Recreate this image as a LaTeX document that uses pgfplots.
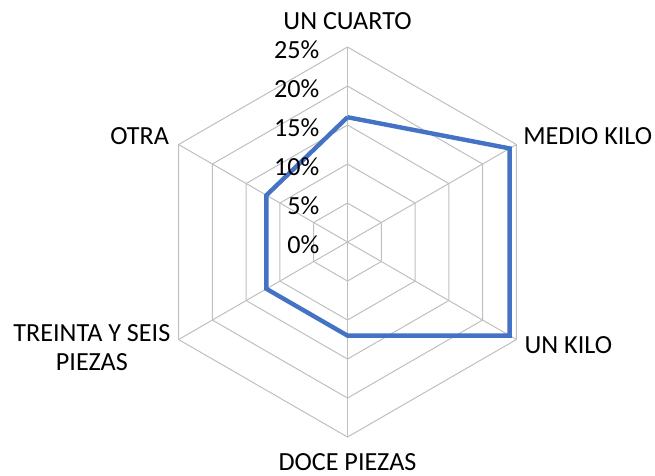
\documentclass[border=0pt]{standalone}
\usepackage{fontspec}
\setmainfont{Carlito}
\usepackage{pgfplots}
\pgfplotsset{compat=1.18}
\usepgfplotslibrary{polar}
\definecolor{gridc}{RGB}{191,191,191}
\definecolor{serie}{RGB}{68,114,196}
\newcommand\lf{\fontsize{19.6}{24}\selectfont}
\begin{document}
\begin{tikzpicture}
\useasboundingbox (-260.6pt,-174.75pt) rectangle (230.6pt,181.5pt);
\begin{polaraxis}[at={(0,0)}, anchor=origin,
  width=292.5pt, height=292.5pt, scale only axis,
  ymin=0, ymax=25, xtick=\empty, ytick=\empty,
  axis line style={draw=none}, clip=false]
\addplot[gridc, line width=0.75pt] coordinates {(90,5)(30,5)(330,5)(270,5)(210,5)(150,5)(90,5)};
\addplot[gridc, line width=0.75pt] coordinates {(90,10)(30,10)(330,10)(270,10)(210,10)(150,10)(90,10)};
\addplot[gridc, line width=0.75pt] coordinates {(90,15)(30,15)(330,15)(270,15)(210,15)(150,15)(90,15)};
\addplot[gridc, line width=0.75pt] coordinates {(90,20)(30,20)(330,20)(270,20)(210,20)(150,20)(90,20)};
\addplot[gridc, line width=0.75pt] coordinates {(90,25)(30,25)(330,25)(270,25)(210,25)(150,25)(90,25)};
\addplot[gridc, line width=0.75pt] coordinates {(90,0)(90,25)};
\addplot[gridc, line width=0.75pt] coordinates {(30,0)(30,25)};
\addplot[gridc, line width=0.75pt] coordinates {(330,0)(330,25)};
\addplot[gridc, line width=0.75pt] coordinates {(270,0)(270,25)};
\addplot[gridc, line width=0.75pt] coordinates {(210,0)(210,25)};
\addplot[gridc, line width=0.75pt] coordinates {(150,0)(150,25)};
\addplot[serie, line width=3.3pt, line join=miter] coordinates {(90,16)(30,24)(330,24)(270,12)(210,12)(150,12)(90,16)};
\tikzset{lab/.style={inner sep=0pt, font=\lf}}
\node[lab, anchor=east, xshift=-21pt, yshift=-2pt] at (axis cs:90,0) {0\%};
\node[lab, anchor=east, xshift=-21pt, yshift=-2pt] at (axis cs:90,5) {5\%};
\node[lab, anchor=east, xshift=-21pt, yshift=-2pt] at (axis cs:90,10) {10\%};
\node[lab, anchor=east, xshift=-21pt, yshift=-2pt] at (axis cs:90,15) {15\%};
\node[lab, anchor=east, xshift=-21pt, yshift=-2pt] at (axis cs:90,20) {20\%};
\node[lab, anchor=east, xshift=-21pt, yshift=-2pt] at (axis cs:90,25) {25\%};
\node[lab, anchor=base, yshift=13.5pt] at (axis cs:90,25) {UN CUARTO};
\node[lab, anchor=base west, xshift=5pt, yshift=0pt] at (axis cs:30,25) {MEDIO KILO};
\node[lab, anchor=base west, xshift=6pt, yshift=-10.5pt] at (axis cs:330,25) {UN KILO};
\node[lab, anchor=base, yshift=-25pt] at (axis cs:270,25) {DOCE PIEZAS};
\node[lab, anchor=base east, xshift=-6pt, yshift=-1.5pt] (t1) at (axis cs:210,25) {TREINTA Y SEIS};
\node[lab, anchor=base] at ([yshift=-22pt]t1.base) {PIEZAS};
\node[lab, anchor=base east, xshift=-7pt, yshift=0pt] at (axis cs:150,25) {OTRA};
\end{polaraxis}
\end{tikzpicture}
\end{document}
